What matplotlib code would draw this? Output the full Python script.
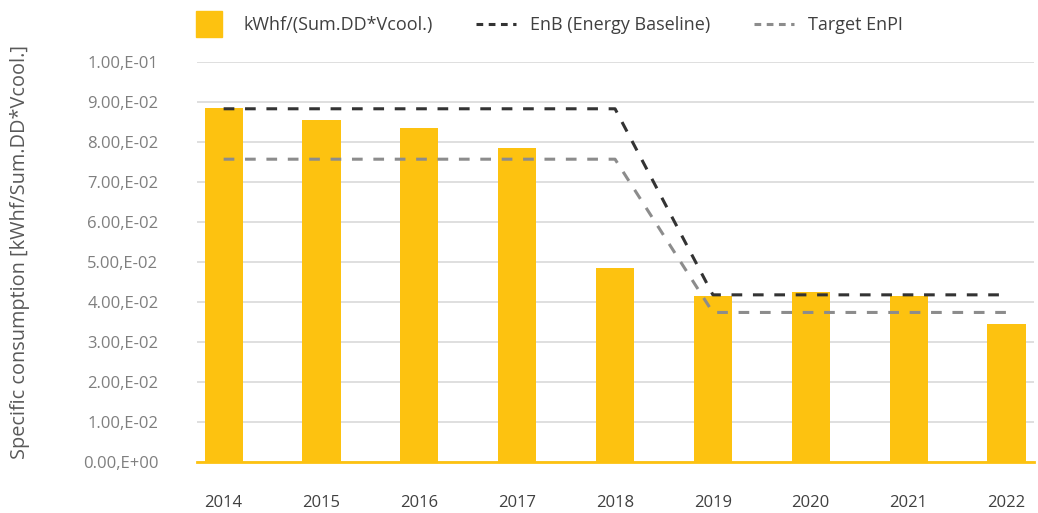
import numpy as np
import matplotlib.pyplot as plt
from matplotlib.lines import Line2D
from matplotlib.ticker import FuncFormatter

years = ["2014", "2015", "2016", "2017", "2018", "2019", "2020", "2021", "2022"]
specific = [0.0885, 0.0853, 0.0835, 0.0785, 0.0483, 0.0415, 0.0423, 0.0415, 0.0345]
enb = [0.0882, 0.0882, 0.0882, 0.0882, 0.0882, 0.0417, 0.0417, 0.0417, 0.0417]
target = [0.0756, 0.0756, 0.0756, 0.0756, 0.0756, 0.0373, 0.0373, 0.0373, 0.0373]

plt.rcParams["font.family"] = ["Open Sans", "DejaVu Sans"]

fig, ax = plt.subplots(figsize=(10.38, 5.13), dpi=100)
fig.subplots_adjust(left=0.19, right=0.996, top=0.88, bottom=0.10)

x = np.arange(len(years))
bar_color = "#FDC210"
dash = (0, (3.5, 3.5))
ax.bar(x, specific, width=0.39, color=bar_color, zorder=2)
ax.plot(x, enb, ls=dash, color="#333333", lw=2.2, zorder=3)
ax.plot(x, target, ls=dash, color="#8C8C8C", lw=2.2, zorder=3)

ax.set_xlim(-0.27, 8.28)
ax.set_ylim(0, 0.1)
ax.set_yticks(np.arange(0, 0.1001, 0.01))


def sci_comma(v, pos):
    if v == 0:
        return "0.00,E+00"
    s = f"{v:.2E}"
    mant, exp = s.split("E")
    return f"{mant},E{exp}"


ax.yaxis.set_major_formatter(FuncFormatter(sci_comma))
ax.set_xticks(x)
ax.set_xticklabels(years)
ax.tick_params(axis="x", length=0, pad=24, labelsize=12, colors="#404040")
ax.tick_params(axis="y", length=0, pad=28, labelsize=12, colors="#7F7F7F")
ax.grid(axis="y", color="#D9D9D9", lw=1.2, zorder=0)
for s in ["top", "right", "left"]:
    ax.spines[s].set_visible(False)
ax.spines["bottom"].set_color(bar_color)
ax.spines["bottom"].set_linewidth(2)
fig.text(20 / 1038, 1 - 252 / 513, "Specific consumption [kWhf/Sum.DD*Vcool.]",
         rotation=90, ha="center", va="center", fontsize=14.3, color="#595959")

handles = [
    Line2D([], [], ls="none", marker="s", markersize=19, color=bar_color),
    Line2D([], [], ls=(0, (2.2, 1.8)), color="#333333", lw=2.2),
    Line2D([], [], ls=(0, (2.2, 1.8)), color="#8C8C8C", lw=2.2),
]
labels = ["kWhf/(Sum.DD*Vcool.)", "EnB (Energy Baseline)", "Target EnPI"]
ax.legend(handles, labels, loc="lower left", bbox_to_anchor=(-0.018, 1.05), ncol=3, frameon=False,
          fontsize=13, handlelength=2.2, handletextpad=0.8,
          columnspacing=2.4, labelcolor="#404040", borderaxespad=0)

fig.savefig("out.png", dpi=100)
